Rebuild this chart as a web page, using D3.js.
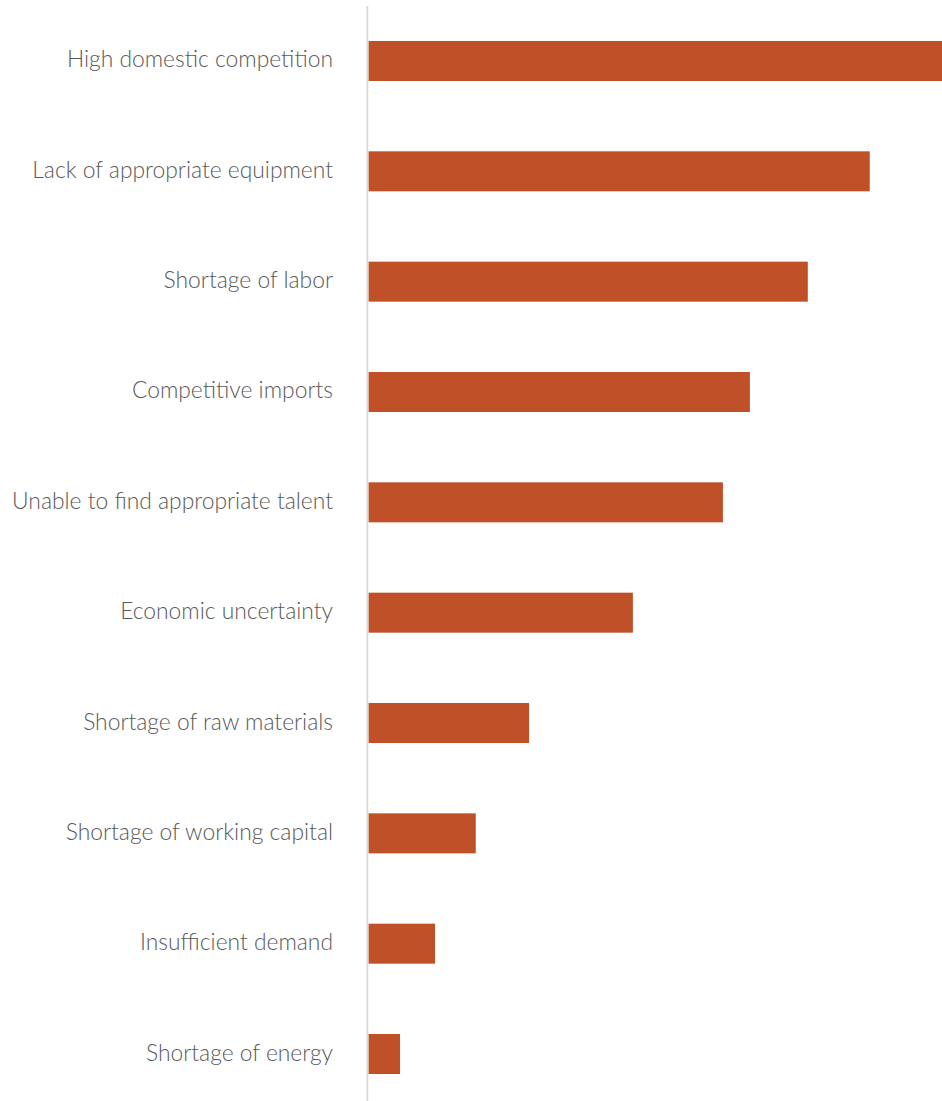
<!DOCTYPE html>
<html>
<head>
<meta charset="utf-8">
<script src="https://cdn.jsdelivr.net/npm/d3@7"></script>
<style>
  html, body { margin: 0; padding: 0; background: #fff; }
  svg { display: block; }
</style>
</head>
<body>
<script>
const categories = [
  "High domestic competition",
  "Lack of appropriate equipment",
  "Shortage of labor",
  "Competitive imports",
  "Unable to find appropriate talent",
  "Economic uncertainty",
  "Shortage of raw materials",
  "Shortage of working capital",
  "Insufficient demand",
  "Shortage of energy"
];
const values = [100, 87.4, 76.6, 66.5, 61.8, 46.1, 28.0, 18.7, 11.6, 5.5];

const W = 942, H = 1101;
const x0 = 368.5, x1 = 942;

const svg = d3.select("body").append("svg").attr("width", W).attr("height", H);

const y = d3.scaleBand()
  .domain(categories)
  .range([7, 1108])
  .paddingInner(0.6375)
  .paddingOuter(0.308);

const x = d3.scaleLinear().domain([0, 100]).range([x0, x1]);

svg.append("g").selectAll("rect")
  .data(categories)
  .join("rect")
  .attr("x", x(0))
  .attr("y", d => y(d))
  .attr("width", (d, i) => x(values[i]) - x(0))
  .attr("height", y.bandwidth())
  .attr("fill", "#bf5027");

// axis line
svg.append("line")
  .attr("x1", 367.3).attr("x2", 367.3)
  .attr("y1", 6).attr("y2", H)
  .attr("stroke", "#dcdcdc").attr("stroke-width", 2);

const yAxis = d3.axisLeft(y).tickSize(0).tickPadding(0);
const g = svg.append("g").attr("transform", "translate(333,-1.5)").call(yAxis);
g.select(".domain").remove();
g.selectAll("text")
  .attr("font-family", "Lato, 'Open Sans', sans-serif")
  .attr("font-weight", 300)
  .attr("font-size", 20)
  .attr("fill", "#595959")
  .attr("dy", "0.35em");

// fit font size so the longest label spans ~321px
let maxW = 0;
g.selectAll("text").each(function(){ maxW = Math.max(maxW, this.getComputedTextLength()); });
const fs = 20 * 321 / maxW;
g.selectAll("text").attr("font-size", fs);
</script>
</body>
</html>
